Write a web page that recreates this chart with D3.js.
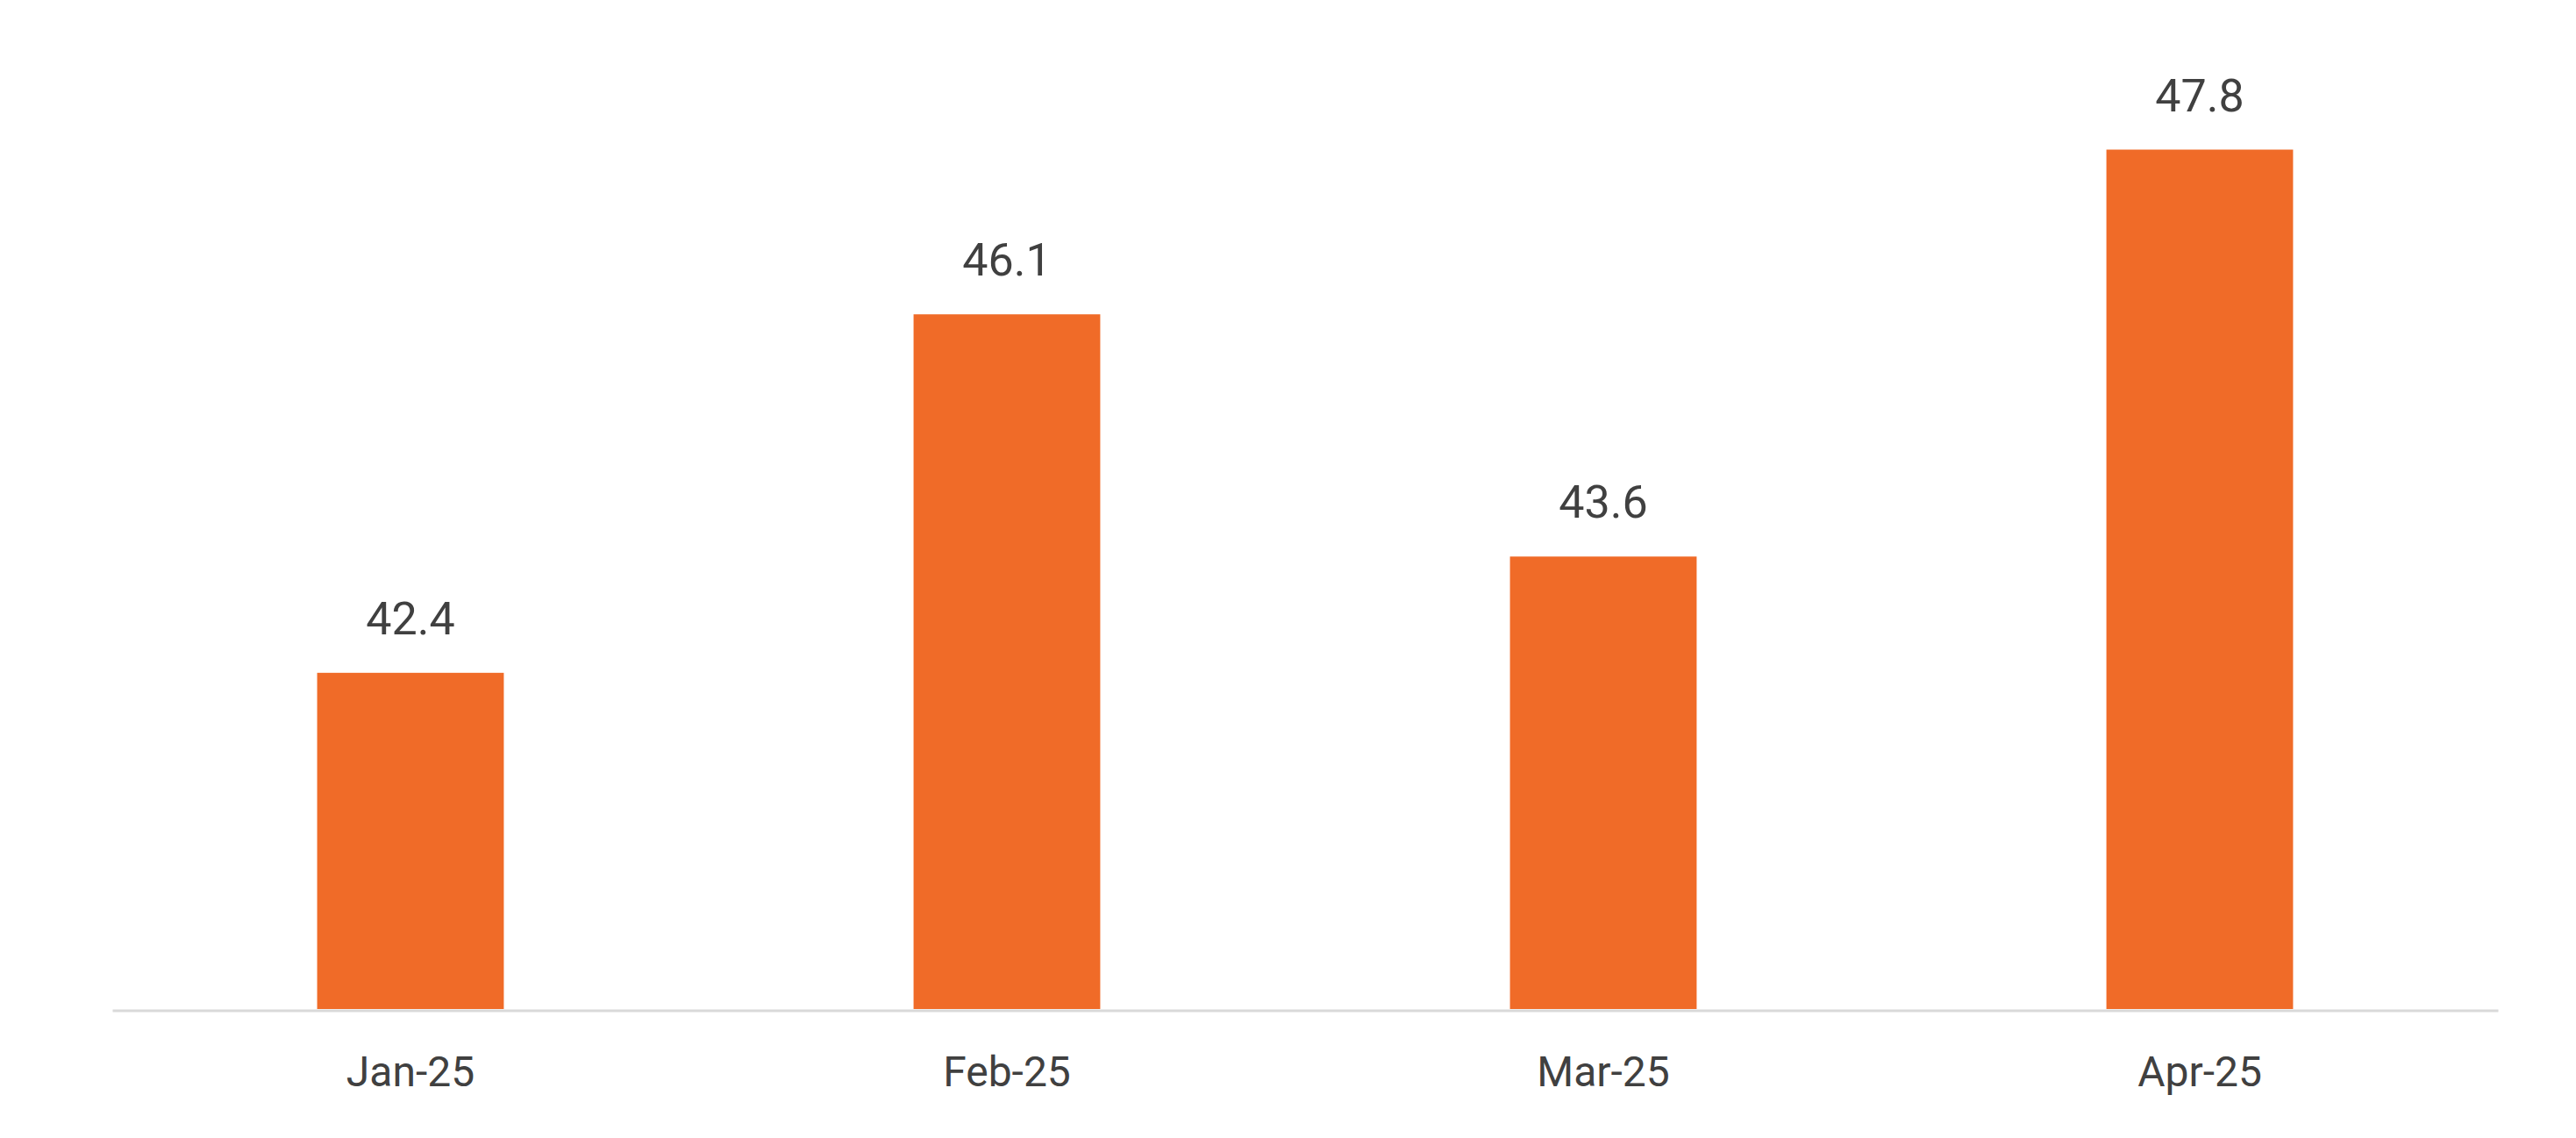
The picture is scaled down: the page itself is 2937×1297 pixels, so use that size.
<!DOCTYPE html>
<html>
<head>
<meta charset="utf-8">
<script src="https://cdn.jsdelivr.net/npm/d3@7"></script>
<style>
  html, body { margin: 0; padding: 0; background: #fff; }
  .chart text { font-family: Roboto, "Open Sans", sans-serif; fill: #404040; }
</style>
</head>
<body>
<div class="chart"></div>
<script>
// data
const months = ["Jan-25", "Feb-25", "Mar-25", "Apr-25"]
const values = [42.4, 46.1, 43.6, 47.8]

const width = 2937, height = 1297
const margin = {left: 128, right: 89, top: 38, bottom: 147}
const barColor = "#f06b28"

const svg = d3.select(".chart").append("svg")
  .attr("width", width)
  .attr("height", height)

// bands: bar is ~31% of each step
const xs = d3.scaleBand()
  .domain(months)
  .range([margin.left, width - margin.right])
  .paddingInner(0.687)
  .paddingOuter(0.3435)

// value axis is hidden, its minimum sits just under 39
const ys = d3.scaleLinear()
  .domain([38.93, 49])
  .range([height - margin.bottom, margin.top])

const rows = months.map((m, i) => ({month: m, value: values[i]}))

svg.selectAll(".bar").data(rows).join("rect")
  .attr("class", "bar")
  .attr("x", d => xs(d.month))
  .attr("y", d => ys(d.value))
  .attr("width", xs.bandwidth())
  .attr("height", d => ys.range()[0] - ys(d.value))
  .attr("fill", barColor)

// value labels above bars
svg.selectAll(".vlabel").data(rows).join("text")
  .attr("class", "vlabel")
  .attr("x", d => xs(d.month) + xs.bandwidth() / 2)
  .attr("y", d => ys(d.value) - 44)
  .attr("text-anchor", "middle")
  .style("font-size", "52px")
  .text(d => d.value.toFixed(1))

// category axis, no ticks
const xAxis = svg.append("g")
  .attr("class", "x-axis")
  .attr("transform", `translate(0,${ys.range()[0] + 1.5})`)
  .call(d3.axisBottom(xs).tickSize(0).tickPadding(0))

xAxis.select(".domain")
  .attr("stroke", "#d9d9d9")
  .attr("stroke-width", 3)

xAxis.selectAll(".tick text")
  .attr("dy", null)
  .attr("y", 86)
  .style("font-size", "48px")
  .style("fill", "#404040")
</script>
</body>
</html>
